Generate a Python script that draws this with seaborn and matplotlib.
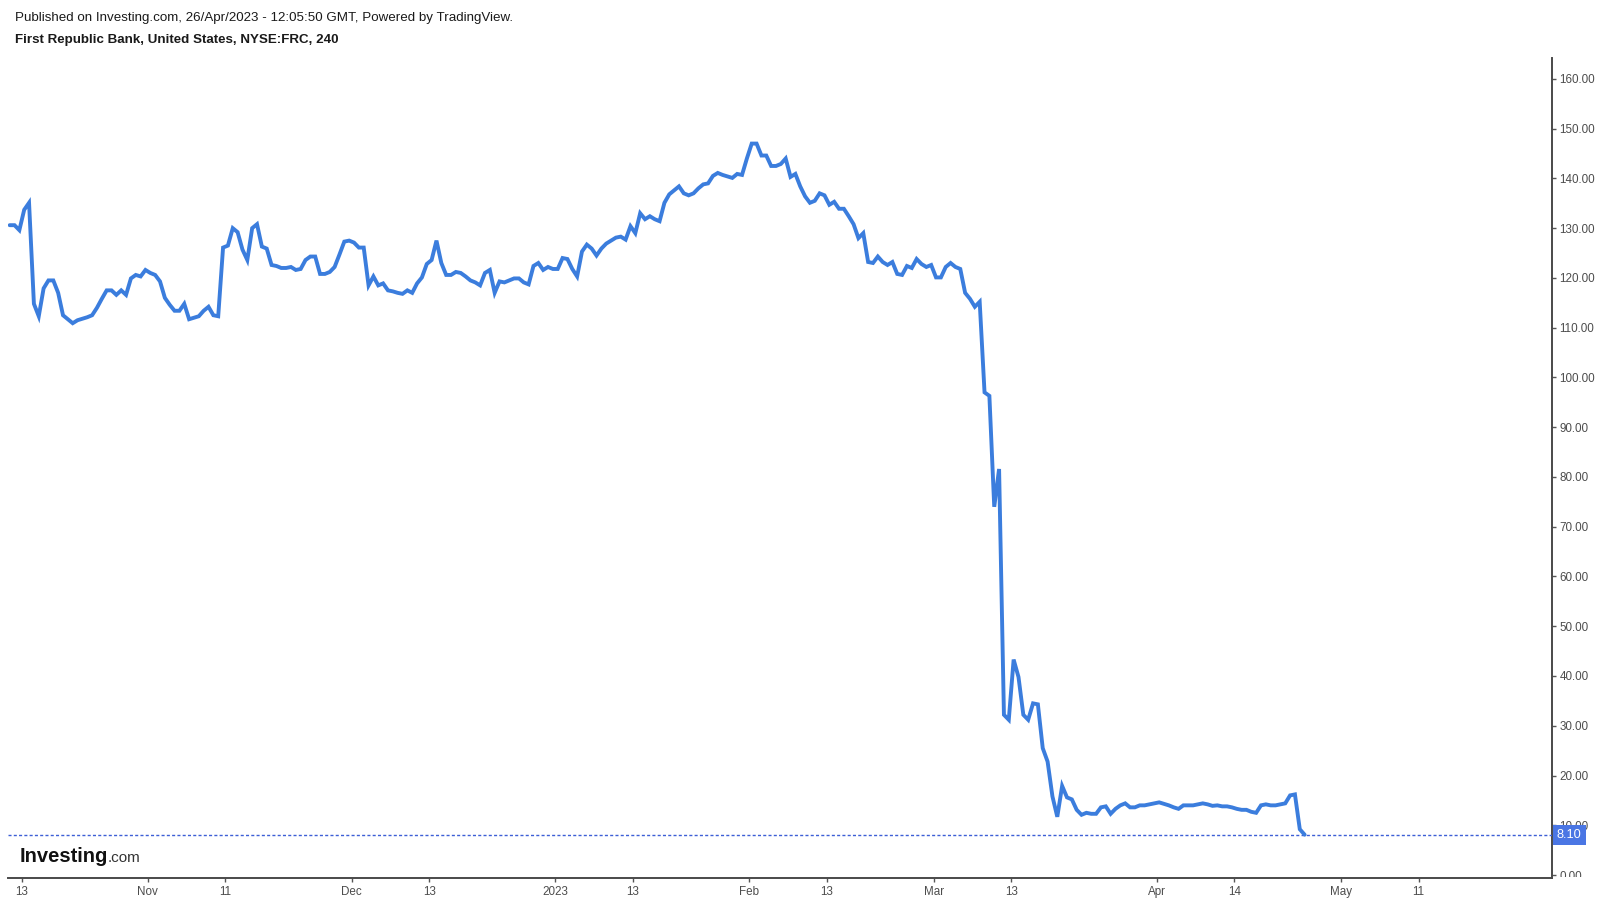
import numpy as np
import pandas as pd
import matplotlib
matplotlib.use("Agg")
import matplotlib.pyplot as plt
import matplotlib.transforms as mtransforms
from matplotlib.patches import Rectangle
import seaborn as sns

# ---- data: FRC 4h closes (2 bars per trading day) ----
oct_vals = [130.6, 130.6, 129.6, 133.7, 135.1, 114.8, 112.3, 117.9, 119.5, 119.5,
            117.0, 112.5, 111.7, 110.9, 111.5, 111.8, 112.1, 112.5, 114.0, 115.8,
            117.5, 117.5, 116.6, 117.5, 116.6, 119.9, 120.6, 120.3]
nov_vals = [121.6, 121.0, 120.6, 119.3, 116.0, 114.6, 113.4, 113.4, 114.8, 111.7,
            112.0, 112.3, 113.4, 114.2, 112.5, 112.3, 126.1, 126.5, 130.0, 129.2,
            125.7, 123.6, 130.0, 130.8, 126.3, 125.9, 122.6, 122.4, 122.0, 122.0,
            122.2, 121.6, 121.8, 123.6, 124.3, 124.3, 120.8, 120.8, 121.2, 122.2,
            124.7, 127.3]
dec_vals = [127.5, 127.1, 126.1, 126.1, 118.5, 120.3, 118.5, 118.9, 117.5, 117.3,
            117.0, 116.8, 117.5, 117.0, 118.9, 120.1, 122.8, 123.6, 127.5, 123.0,
            120.6, 120.6, 121.2, 121.0, 120.3, 119.5, 119.1, 118.5, 121.0, 121.6,
            117.0, 119.3, 119.1, 119.5, 119.9, 119.9, 119.1, 118.7, 122.4, 123.0,
            121.6, 122.2]
jan_vals = [121.8, 121.8, 124.0, 123.8, 121.8, 120.3, 125.3, 126.7, 125.9, 124.5,
            125.9, 126.9, 127.5, 128.1, 128.3, 127.7, 130.4, 129.0, 133.0, 131.8,
            132.4, 131.8, 131.4, 135.1, 136.8, 137.6, 138.4, 137.0, 136.6, 137.0,
            138.0, 138.8, 139.0, 140.5, 141.1, 140.7, 140.4, 140.1, 140.9, 140.7]
feb_vals = [144.0, 147.0, 147.0, 144.6, 144.6, 142.5, 142.5, 142.9, 144.0, 140.3,
            140.9, 138.4, 136.4, 135.1, 135.5, 137.0, 136.6, 134.7, 135.3, 133.9,
            133.9, 132.4, 130.8, 128.0, 129.0, 123.2, 123.0, 124.3, 123.2, 122.6,
            123.2, 120.8, 120.6, 122.4, 122.0, 123.8, 122.8, 122.2]
mar_vals = [122.6, 120.1, 120.1, 122.2, 123.0, 122.2, 121.8, 117.0, 115.8, 114.2,
            115.2, 97.0, 96.3, 74.0, 81.6, 32.2, 31.2, 43.3, 39.8, 32.2,
            31.2, 34.5, 34.3, 25.5, 22.8, 15.8, 11.7, 17.9, 15.6, 15.2,
            13.1, 12.1, 12.5, 12.3, 12.3, 13.6, 13.8, 12.3, 13.3, 14.0,
            14.4, 13.6, 13.6, 14.0, 14.0, 14.2]
apr_vals = [14.4, 14.6, 14.3, 14.0, 13.6, 13.3, 14.0, 14.0, 14.0, 14.2,
            14.4, 14.2, 13.9, 14.0, 13.8, 13.8, 13.6, 13.3, 13.1, 13.1,
            12.7, 12.5, 14.0, 14.2, 14.0, 14.0, 14.2, 14.4, 16.0, 16.2,
            9.2, 8.1]

last_price = 8.10
y_ticks = [0, 10, 20, 30, 40, 50, 60, 70, 80, 90, 100, 110, 120, 130, 140, 150, 160]
tick_dates = ["2022-10-13", "2022-11-01", "2022-11-11", "2022-12-01", "2022-12-13",
              "2023-01-03", "2023-01-13", "2023-02-01", "2023-02-13", "2023-03-01",
              "2023-03-13", "2023-04-03", "2023-04-14", "2023-05-01", "2023-05-11"]
tick_labels = ["13", "Nov", "11", "Dec", "13", "2023", "13", "Feb", "13", "Mar",
               "13", "Apr", "14", "May", "11"]
holidays = ["2022-11-24", "2022-12-26", "2023-01-02", "2023-01-16", "2023-02-20",
            "2023-04-07", "2023-05-29"]

prices = oct_vals + nov_vals + dec_vals + jan_vals + feb_vals + mar_vals + apr_vals
df = pd.DataFrame({"bar": np.arange(len(prices)), "price": prices})

# trading calendar -> bar index (2 bars of 240 min per session)
days = pd.bdate_range("2022-10-12", "2023-06-30")
days = days[~days.isin(pd.to_datetime(holidays))]
tick_pos = [2 * days.get_loc(pd.Timestamp(d)) + 0.5 for d in tick_dates]

# ---- style ----
sns.set_style("white")
plt.rcParams["font.family"] = ["Liberation Sans", "DejaVu Sans"]

W, H = 1602, 902
fig = plt.figure(figsize=(W / 100, H / 100), dpi=100)
left, right, top, bottom = 8.2, 1552, 58, 878
ax = fig.add_axes([left / W, 1 - bottom / H, (right - left) / W, (bottom - top) / H])

line_color = "#3b7ddd"
sns.lineplot(data=df, x="bar", y="price", ax=ax, color=line_color, linewidth=2.8,
             solid_joinstyle="miter", zorder=4)

ax.axhline(last_price, color="#3d5fd6", lw=1.0, ls=(0, (2.2, 1.6)), zorder=3)

ax.set_xlim(-0.3, 318)
ax.set_ylim(-0.6, 164.2)
ax.set_xlabel("")
ax.set_ylabel("")

ax.yaxis.tick_right()
ax.set_yticks(y_ticks)
ax.set_yticklabels([f"{v:.2f}" for v in y_ticks])
ax.set_xticks(tick_pos)
ax.set_xticklabels(tick_labels)
ax.tick_params(axis="y", which="both", right=True, left=False, direction="out",
               length=3, width=1, color="#555555", pad=2.5, labelsize=8.4,
               labelcolor="#4d4d4d")
ax.tick_params(axis="x", which="both", bottom=True, direction="out", length=3,
               width=1, color="#555555", pad=2.5, labelsize=8.4, labelcolor="#4d4d4d")

for s in ["left", "top"]:
    ax.spines[s].set_visible(False)
for s in ["right", "bottom"]:
    ax.spines[s].set_color("#4a4a4a")
    ax.spines[s].set_linewidth(1.4)

# last price label box
trans = mtransforms.blended_transform_factory(ax.transAxes, ax.transData)
ax.annotate(f"{last_price:.2f}", xy=(1.0, last_price), xycoords=trans,
            xytext=(3.6, 0), textcoords="offset points", ha="left", va="center",
            color="white", fontsize=9.2, annotation_clip=False, zorder=6,
            bbox=dict(boxstyle="square,pad=0.32", fc="#4a76e4", ec="none"))

# hide the lower part of the 0.00 label like the original
clip_y = 876.5
fig.add_artist(Rectangle(((right + 1.5) / W, 0), (W - right - 1.5) / W,
                         (H - clip_y) / H, transform=fig.transFigure,
                         fc="white", ec="none", zorder=5))

# header
fig.text(15 / W, 1 - 18 / H, "Published on Investing.com, 26/Apr/2023 - 12:05:50 GMT, Powered by TradingView.",
         ha="left", va="center", fontsize=9.6, color="#1a1a1a")
fig.text(15 / W, 1 - 40.5 / H, "First Republic Bank, United States, NYSE:FRC, 240",
         ha="left", va="center", fontsize=9.6, fontweight="bold", color="#1a1a1a")

# logo
t1 = fig.text(20 / W, 1 - 862 / H, "Investing", ha="left", va="baseline",
              fontsize=14.5, fontweight="bold", color="#111111")
fig.canvas.draw()
bb = t1.get_window_extent()
fig.text((bb.x1 - 1.0) / W, 1 - 862 / H, ".com", ha="left", va="baseline",
         fontsize=11, color="#333333")

fig.savefig("out.png", dpi=100, facecolor="white")
